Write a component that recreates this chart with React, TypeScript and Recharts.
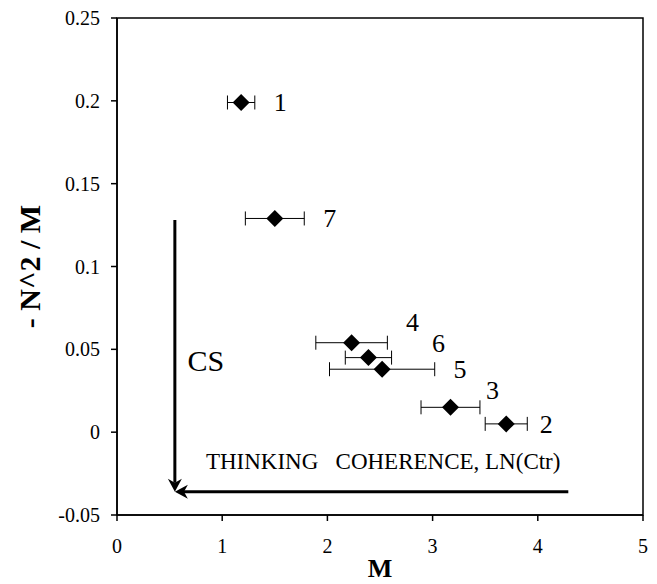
import React from 'react';
import {
  ScatterChart,
  Scatter,
  XAxis,
  YAxis,
  ErrorBar,
  ReferenceArea,
  ReferenceLine,
  ReferenceDot,
} from 'recharts';

const labels = ['1', '7', '4', '6', '5', '3', '2'];
const mValues = [1.18, 1.5, 2.23, 2.39, 2.52, 3.17, 3.7];
const n2Values = [0.199, 0.129, 0.054, 0.045, 0.038, 0.015, 0.005];
const mErrors = [0.13, 0.28, 0.34, 0.22, 0.5, 0.28, 0.2];

const xTicks = [0, 1, 2, 3, 4, 5];
const yTicks = [-0.05, 0, 0.05, 0.1, 0.15, 0.2, 0.25];

// annotation arrows and notes, in data units
const csArrow = { x: 0.55, from: 0.128, to: -0.036 };
const thinkingArrow = { y: -0.036, from: 4.29, to: 0.55 };
const csNote = { x: 0.67, y: 0.0435, text: 'CS' };
const thinkingNote = { x: 0.845, y: -0.018, text: 'THINKING   COHERENCE, LN(Ctr)' };

const points = labels.map((name, i) => ({
  name,
  m: mValues[i],
  v: n2Values[i],
  err: mErrors[i],
}));

const FONT = '"Liberation Serif", "Times New Roman", serif';

// where each point's number sits, relative to the marker (px)
const labelOffset: Record<string, [number, number]> = {
  '1': [39, 0],
  '7': [55, 0],
  '4': [61, -20],
  '6': [70, -14],
  '5': [78, 0],
  '3': [42, -17],
  '2': [40, 1],
};

const Diamond = (props: any) => {
  const { cx, cy, payload } = props;
  const r = 8.5;
  const off = labelOffset[payload.name] || [40, 0];
  return (
    <g>
      <polygon
        points={`${cx},${cy - r} ${cx + r},${cy} ${cx},${cy + r} ${cx - r},${cy}`}
        fill="#000"
      />
      <text
        x={cx + off[0]}
        y={cy + off[1]}
        textAnchor="middle"
        dominantBaseline="central"
        fontFamily={FONT}
        fontSize={26}
        fill="#000"
      >
        {payload.name}
      </text>
    </g>
  );
};

const Arrow = (props: any) => {
  const { x1, y1, x2, y2 } = props;
  const dx = x2 - x1;
  const dy = y2 - y1;
  const len = Math.sqrt(dx * dx + dy * dy) || 1;
  const ux = dx / len;
  const uy = dy / len;
  const nx = -uy;
  const ny = ux;
  const L = 13;
  const W = 7;
  const bx = x2 - ux * L;
  const by = y2 - uy * L;
  const nxm = x2 - ux * L * 0.7;
  const nym = y2 - uy * L * 0.7;
  return (
    <g>
      <line x1={x1} y1={y1} x2={nxm} y2={nym} stroke="#000" strokeWidth={3} />
      <polygon
        points={`${x2},${y2} ${bx + nx * W},${by + ny * W} ${nxm},${nym} ${bx - nx * W},${by - ny * W}`}
        fill="#000"
      />
    </g>
  );
};

const note = (text: string, size: number) => (p: any) => (
  <text
    x={p.cx}
    y={p.cy}
    dominantBaseline="central"
    fontFamily={FONT}
    fontSize={size}
    fill="#000"
    style={{ whiteSpace: 'pre' }}
  >
    {text}
  </text>
);

const renderTick = (anchor: 'middle' | 'end', vAnchor: string) => (p: any) => (
  <text
    x={p.x}
    y={p.y}
    textAnchor={anchor}
    dominantBaseline={vAnchor}
    fontFamily={FONT}
    fontSize={20}
    fill="#000"
  >
    {p.payload.value}
  </text>
);

export default function App() {
  return (
    <div
      style={{ position: 'absolute', left: 0, top: 0, background: '#fff', fontFamily: FONT }}
    >
      <ScatterChart
        width={657}
        height={584}
        margin={{ top: 18, right: 14, left: 0, bottom: 0 }}
      >
        <XAxis
          type="number"
          dataKey="m"
          domain={[0, 5]}
          ticks={xTicks}
          height={69}
          stroke="#000"
          strokeWidth={1.5}
          tickSize={6}
          tickMargin={18}
          tick={renderTick('middle', 'hanging')}
          label={{
            content: (p: any) => {
              const vb = p.viewBox;
              return (
                <text
                  x={vb.x + vb.width / 2}
                  y={vb.y + 62}
                  textAnchor="middle"
                  fontFamily={FONT}
                  fontWeight="bold"
                  fontSize={26}
                  fill="#000"
                >
                  M
                </text>
              );
            },
          }}
        />
        <YAxis
          type="number"
          dataKey="v"
          domain={[-0.05, 0.25]}
          ticks={yTicks}
          width={117}
          stroke="#000"
          strokeWidth={1.5}
          tickSize={6}
          tickMargin={11}
          tick={renderTick('end', 'central')}
          label={{
            content: (p: any) => {
              const vb = p.viewBox;
              const cx = vb.x + 40;
              const cy = vb.y + vb.height / 2;
              return (
                <text
                  x={cx}
                  y={cy}
                  transform={`rotate(-90 ${cx} ${cy})`}
                  textAnchor="middle"
                  fontFamily={FONT}
                  fontWeight="bold"
                  fontSize={30}
                  fill="#000"
                  style={{ whiteSpace: 'pre' }}
                >
                  - N^2 / M
                </text>
              );
            },
          }}
        />
        <ReferenceArea
          x1={0}
          x2={5}
          y1={-0.05}
          y2={0.25}
          fill="none"
          stroke="#000"
          strokeWidth={1.5}
          fillOpacity={0}
        />
        <ReferenceLine
          segment={[
            { x: csArrow.x, y: csArrow.from },
            { x: csArrow.x, y: csArrow.to },
          ]}
          shape={Arrow}
        />
        <ReferenceLine
          segment={[
            { x: thinkingArrow.from, y: thinkingArrow.y },
            { x: thinkingArrow.to, y: thinkingArrow.y },
          ]}
          shape={Arrow}
        />
        <ReferenceDot x={csNote.x} y={csNote.y} r={0} shape={note(csNote.text, 30)} />
        <ReferenceDot
          x={thinkingNote.x}
          y={thinkingNote.y}
          r={0}
          shape={note(thinkingNote.text, 23)}
        />
        <Scatter data={points} shape={Diamond} isAnimationActive={false}>
          <ErrorBar dataKey="err" direction="x" width={7} stroke="#000" strokeWidth={1} />
        </Scatter>
      </ScatterChart>
    </div>
  );
}
